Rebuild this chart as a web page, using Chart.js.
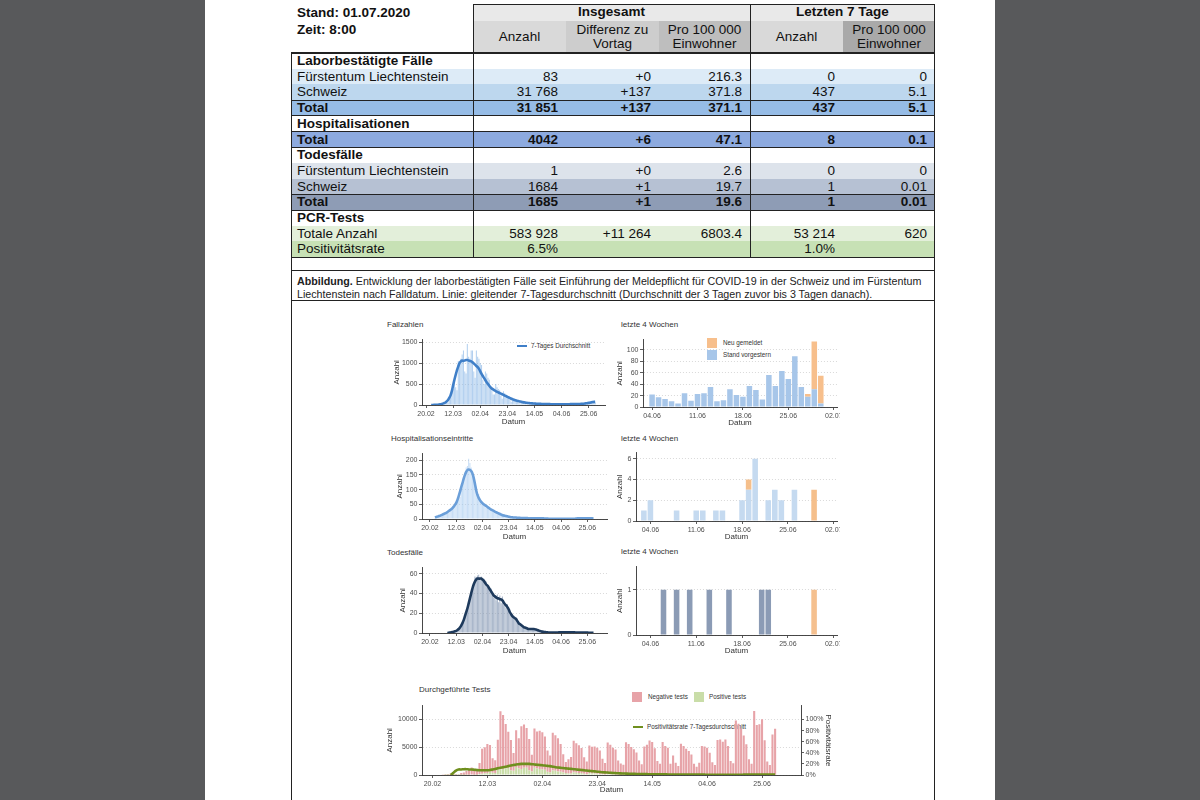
<!DOCTYPE html>
<html lang="de">
<head>
<meta charset="utf-8">
<title>COVID-19 Situationsbericht</title>
<script src="https://cdn.jsdelivr.net/npm/chart.js@4.4.0/dist/chart.umd.min.js"></script>
<style>
  body { margin:0; width:1200px; height:800px; background:#58595b; overflow:hidden; font-family:"Liberation Sans", Arial, sans-serif; color:#111; }
  #page { position:absolute; left:205px; top:0; width:790px; height:800px; background:#fff; }
  .abs { position:absolute; white-space:nowrap; }
  .abs canvas { display:block; }
  .trow { position:absolute; left:291px; width:644px; height:15.7px; line-height:15.7px; font-size:13.5px; }
  .trow span { position:absolute; top:0; }
  .hd { position:absolute; font-size:13.5px; text-align:center; display:flex; align-items:center; justify-content:center; line-height:14.5px; }
  .ln { position:absolute; background:#222; }
  .ttl { position:absolute; font-size:8px; line-height:10px; color:#333; white-space:nowrap; }
  .leg { position:absolute; font-size:6.3px; line-height:8px; color:#333; white-space:nowrap; }
  .sw { position:absolute; }
</style>
</head>
<body>
<div id="page"></div>

<!-- header of the table -->
<div class="abs" style="left:297px;top:3.5px;font-size:13.5px;line-height:17px;font-weight:bold">Stand: 01.07.2020<br>Zeit: 8:00</div>
<div class="hd" style="left:473px;top:4px;width:277px;height:17px;background:#e9e9e9;font-weight:bold">Insgesamt</div>
<div class="hd" style="left:750px;top:4px;width:185px;height:17px;background:#e9e9e9;font-weight:bold">Letzten 7 Tage</div>
<div class="hd" style="left:473px;top:21px;width:93px;height:32px;background:#d9d9d9">Anzahl</div>
<div class="hd" style="left:566px;top:21px;width:93px;height:32px;background:#cdcdcd">Differenz zu<br>Vortag</div>
<div class="hd" style="left:659px;top:21px;width:91px;height:32px;background:#bebebe">Pro 100 000<br>Einwohner</div>
<div class="hd" style="left:750px;top:21px;width:93px;height:32px;background:#d9d9d9">Anzahl</div>
<div class="hd" style="left:843px;top:21px;width:92px;height:32px;background:#a9a9a9">Pro 100 000<br>Einwohner</div>
<div id="rows"></div>

<div class="abs" style="left:297px;top:274.5px;font-size:10.7px;line-height:13px;color:#222"><b>Abbildung.</b> Entwicklung der laborbestätigten Fälle seit Einführung der Meldepflicht für COVID-19 in der Schweiz und im Fürstentum<br>Liechtenstein nach Falldatum. Linie: gleitender 7-Tagesdurchschnitt (Durchschnitt der 3 Tagen zuvor bis 3 Tagen danach).</div>

<!-- chart titles and legends -->
<div class="ttl" style="left:387px;top:320px">Fallzahlen</div>
<div class="ttl" style="left:621px;top:320px">letzte 4 Wochen</div>
<div class="ttl" style="left:391px;top:434px">Hospitalisationseintritte</div>
<div class="ttl" style="left:621px;top:434px">letzte 4 Wochen</div>
<div class="ttl" style="left:387px;top:548px">Todesfälle</div>
<div class="ttl" style="left:621px;top:547px">letzte 4 Wochen</div>
<div class="ttl" style="left:419px;top:685px">Durchgeführte Tests</div>

<div class="sw" style="left:517px;top:344.5px;width:10px;height:2.6px;background:#3f7fc8"></div>
<div class="leg" style="left:531px;top:341.7px">7-Tages Durchschnitt</div>
<div class="sw" style="left:707px;top:338px;width:10px;height:10px;background:#f7bf8c"></div>
<div class="leg" style="left:723px;top:339px">Neu gemeldet</div>
<div class="sw" style="left:707px;top:349.5px;width:10px;height:10px;background:#a7c6e9"></div>
<div class="leg" style="left:723px;top:350.5px">Stand vorgestern</div>
<div class="sw" style="left:632px;top:692px;width:10px;height:10px;background:#e7a3a8"></div>
<div class="leg" style="left:648px;top:693px">Negative tests</div>
<div class="sw" style="left:694px;top:692px;width:10px;height:10px;background:#c9dda8"></div>
<div class="leg" style="left:709px;top:693px">Positive tests</div>
<div class="sw" style="left:633px;top:725.5px;width:10px;height:2.6px;background:#6f8f1e"></div>
<div class="leg" style="left:647px;top:723px">Positivitätsrate 7-Tagesdurchschnitt</div>

<script>
// ---- data (daily values, starting 24.02.2020) ----
const bigStart = '24.02';
const bigTicks = ['20.02', '12.03', '02.04', '23.04', '14.05', '04.06', '25.06'];
const recentTicks = ['04.06', '11.06', '18.06', '25.06', '02.07'];

const casesDaily = [
  0, 1, 2, 5, 8, 6, 10,
  14, 20, 28, 45, 70, 55, 60,
  160, 230, 300, 380, 600, 420, 350,
  1050, 1000, 1100, 1200, 1300, 800, 750,
  1450, 1150, 1100, 1300, 1300, 800, 650,
  1300, 1150, 1100, 1000, 950, 600, 500,
  800, 750, 650, 600, 450, 350, 250,
  250, 500, 420, 380, 350, 220, 150,
  330, 280, 250, 220, 200, 120, 80,
  170, 150, 130, 110, 100, 60, 40,
  90, 80, 70, 60, 55, 30, 20,
  50, 45, 40, 40, 35, 20, 15,
  35, 30, 30, 15, 25, 15, 10,
  25, 20, 20, 18, 20, 12, 8,
  10, 25, 20, 22, 17, 14, 10,
  6, 24, 11, 23, 24, 35, 10,
  12, 31, 21, 18, 37, 30, 13,
  56, 37, 63, 49, 89, 35, 23,
  115, 55
];
const casesAvg = [
  0, 1, 2, 3, 5, 7, 10,
  15, 22, 32, 45, 60, 85, 120,
  170, 230, 330, 470, 600, 720, 830,
  920, 1000, 1040, 1060, 1050, 1060, 1070,
  1070, 1060, 1050, 1040, 1020, 990, 960,
  930, 900, 860, 800, 740, 690, 640,
  590, 540, 500, 460, 420, 390, 370,
  350, 330, 315, 300, 285, 270, 255,
  240, 225, 210, 195, 180, 165, 150,
  138, 125, 115, 105, 97, 90, 82,
  75, 68, 62, 57, 52, 48, 45,
  42, 39, 36, 34, 32, 30, 28,
  27, 26, 25, 24, 23, 22, 21,
  20, 20, 19, 19, 18, 18, 18,
  17, 18, 18, 18, 17, 17, 17,
  18, 19, 19, 20, 21, 21, 22,
  22, 23, 24, 25, 26, 28, 31,
  35, 40, 45, 50, 55, 62, 68,
  72, 75
];
const hospDaily = [
  3, 6, 5, 9, 12, 10, 14,
  15, 20, 18, 25, 24, 30, 33,
  38, 40, 50, 55, 62, 70, 75,
  100, 115, 130, 150, 175, 180, 205,
  190, 175, 160, 150, 120, 100, 80,
  85, 72, 60, 55, 50, 42, 38,
  48, 40, 37, 30, 28, 25, 22,
  25, 24, 20, 18, 15, 12, 10,
  14, 11, 9, 8, 7, 5, 4,
  7, 6, 5, 4, 4, 2, 2,
  4, 3, 3, 3, 2, 2, 1,
  3, 2, 2, 2, 2, 1, 1,
  2, 2, 2, 1, 1, 1, 0,
  1, 1, 1, 1, 1, 0, 0,
  0, 0, 1, 2, 0, 0, 0,
  1, 0, 0, 1, 1, 0, 1,
  1, 0, 0, 2, 4, 6, 0,
  2, 3, 2, 0, 3, 0, 0,
  3, 0
];
const hospAvg = [
  5, 7, 8, 10, 11, 13, 15,
  17, 19, 21, 24, 27, 30, 33,
  37, 42, 48, 55, 65, 78, 92,
  108, 122, 137, 150, 160, 166, 168,
  167, 163, 155, 140, 120, 98, 82,
  72, 64, 58, 54, 50, 47, 44,
  41, 38, 35, 32, 30, 28, 25,
  23, 21, 19, 17, 15, 13, 12,
  11, 10, 9, 8, 7, 6, 6,
  5, 5, 5, 4, 4, 4, 3,
  3, 3, 3, 3, 3, 2, 2,
  2, 2, 2, 2, 2, 2, 2,
  2, 2, 2, 2, 1.5, 1.5, 1.5,
  1, 1, 1, 1, 1, 1, 1,
  1, 1, 1, 1, 1, 1, 1,
  1, 1, 1, 1, 1, 1, 1,
  1, 1.5, 2, 2, 2, 2, 2,
  2, 2.5, 2.5, 2.5, 2, 2, 2,
  2, 1.5
];
const deathsDaily = [
  0, 0, 0, 0, 0, 0, 0,
  0, 0, 0, 1, 0, 1, 1,
  1, 2, 1, 3, 3, 5, 6,
  9, 11, 14, 16, 22, 26, 31,
  36, 42, 44, 50, 57, 56, 58,
  59, 54, 57, 53, 55, 49, 52,
  47, 48, 42, 45, 38, 36, 38,
  33, 39, 31, 38, 30, 37, 28,
  30, 25, 29, 22, 20, 18, 17,
  15, 16, 13, 12, 9, 10, 7,
  8, 6, 5, 6, 4, 3, 5,
  4, 5, 3, 4, 4, 2, 3,
  2, 2, 1, 1, 1, 1, 0,
  1, 0, 1, 0, 1, 0, 0,
  0, 0, 0, 0, 0, 1, 0,
  1, 0, 1, 0, 0, 1, 0,
  0, 1, 0, 0, 0, 0, 1,
  1, 0, 0, 0, 0, 0, 0,
  1, 0
];
const deathsAvg = [
  null, null, null, null, null, null, null,
  null, null, null, 0, 0.3, 0.5, 0.7,
  1, 1.3, 1.7, 2.2, 3, 4, 5.5,
  7.5, 10, 13, 17, 21, 25, 30,
  35, 40, 45, 49, 52, 54, 55,
  55, 55, 55, 54, 53, 51, 49,
  48, 46, 44, 42, 40, 38, 37,
  36, 35, 35, 34, 34, 33, 31,
  29, 28, 26, 24, 21, 19, 17,
  16, 15, 14, 12, 10, 9, 8,
  7, 6, 5.5, 5, 4.5, 4, 4,
  4, 4, 4, 3.8, 3.5, 3, 2.5,
  2, 1.7, 1.4, 1.2, 1, 0.8, 0.6,
  0.5, 0.5, 0.5, 0.5, 0.5, 0.5, 0.5,
  0.5, 0.6, 0.7, 0.7, 0.8, 0.8, 0.8,
  0.8, 0.8, 0.8, 0.7, 0.7, 0.7, 0.6,
  0.6, 0.5, 0.5, 0.5, 0.5, 0.5, 0.5,
  0.5, 0.5, 0.4, 0.4, 0.3, 0.3, 0.3,
  0.3, 0.3
];
const testsNegative = [
  50, 80, 150, 250, 300, 150, 100,
  350, 450, 700, 900, 1300, 900, 800,
  2000, 4500, 4700, 5200, 4800, 2600, 2300,
  5300, 10500, 9700, 8000, 6500, 5500, 3200,
  6600, 5500, 7700, 7800, 7200, 5700, 3000,
  7100, 6700, 6900, 6700, 6000, 3800, 3000,
  6800, 6400, 6000, 5000, 3300, 2000, 2600,
  3000, 5700, 5300, 5000, 4500, 3000, 2300,
  5000, 4800, 4900, 4700, 4200, 2800, 2100,
  5700, 5300, 4800, 4500, 2500, 2000, 1800,
  5800, 5500, 5000, 4600, 4000, 2600, 1900,
  5100, 5400, 6200, 5900, 4800, 2500, 2000,
  5900, 5200, 4900, 2000, 3500, 2200, 1600,
  5600, 5200, 4700, 4300, 3700, 2000, 1500,
  2200, 5200, 5100, 4900, 4000, 2300, 1800,
  6300, 6400, 6000, 6400, 5200, 2500, 2100,
  9800, 9200, 8300, 7100, 5500, 2800, 2000,
  11500, 9000, 9100, 10000, 6200, 2400, 1800,
  7200, 8300
];
const testsPositive = casesDaily;
const positivityAvg = [
  null, null, null, 0, 4, 8, 10,
  10, 10.5, 10.5, 10, 10, 9.5, 9,
  8.5, 8.5, 8.5, 8.5, 9, 10, 11,
  12, 13, 14, 15, 16, 17, 18,
  19, 19.5, 20, 20, 20, 20, 19.5,
  19, 18.5, 18, 17.5, 17, 16.5, 16,
  15, 14, 13.5, 13, 12.5, 12, 11.5,
  11, 10.5, 10, 9.5, 9, 8.5, 8,
  7.5, 7, 6.5, 6, 5.5, 5, 4.7,
  4.4, 4, 3.7, 3.4, 3.1, 2.9, 2.7,
  2.5, 2.3, 2.1, 2, 1.9, 1.8, 1.7,
  1.6, 1.5, 1.4, 1.3, 1.3, 1.2, 1.2,
  1.1, 1.1, 1, 1, 1, 0.9, 0.9,
  0.9, 0.8, 0.8, 0.8, 0.7, 0.7, 0.7,
  0.6, 0.6, 0.6, 0.5, 0.5, 0.5, 0.5,
  0.5, 0.5, 0.5, 0.5, 0.5, 0.5, 0.5,
  0.5, 0.5, 0.5, 0.6, 0.6, 0.6, 0.6,
  0.7, 0.7, 0.8, 0.8, 0.9, 0.9, 1,
  1, 1
];

// last four weeks
const casesRecentStart = '04.06';
const casesRecentKnown = [22, 17, 14, 10, 6, 24, 11, 23, 24, 35, 10, 12, 31, 21, 18, 37, 30, 13, 56, 37, 63, 49, 89, 35, 18, 31, 6];
const casesRecentNew   = [0, 0, 0, 0, 0, 0, 0, 0, 0, 0, 0, 0, 0, 0, 0, 0, 0, 0, 0, 0, 0, 0, 0, 0, 5, 84, 49];
const recentStart = '03.06';
const hospRecentKnown   = [1, 2, 0, 0, 0, 1, 0, 0, 1, 1, 0, 1, 1, 0, 0, 2, 3, 6, 0, 2, 3, 2, 0, 3, 0, 0, 0, 0];
const hospRecentNew     = [0, 0, 0, 0, 0, 0, 0, 0, 0, 0, 0, 0, 0, 0, 0, 0, 1, 0, 0, 0, 0, 0, 0, 0, 0, 0, 3, 0];
const deathsRecentKnown = [0, 0, 0, 1, 0, 1, 0, 1, 0, 0, 1, 0, 0, 1, 0, 0, 0, 0, 1, 1, 0, 0, 0, 0, 0, 0, 0, 0];
const deathsRecentNew   = [0, 0, 0, 0, 0, 0, 0, 0, 0, 0, 0, 0, 0, 0, 0, 0, 0, 0, 0, 0, 0, 0, 0, 0, 0, 0, 1, 0];

// ---- table ----
const cols = [291, 473, 566, 659, 750, 843, 935];
const rowTop = 53, rowH = 15.7;
const tableRows = [
  { label: 'Laborbestätigte Fälle', bold: true },
  { label: 'Fürstentum Liechtenstein', vals: ['83', '+0', '216.3', '0', '0'], bg: '#ddebf7' },
  { label: 'Schweiz', vals: ['31 768', '+137', '371.8', '437', '5.1'], bg: '#bdd7ee' },
  { label: 'Total', vals: ['31 851', '+137', '371.1', '437', '5.1'], bg: '#96bce6', bold: true, total: true },
  { label: 'Hospitalisationen', bold: true },
  { label: 'Total', vals: ['4042', '+6', '47.1', '8', '0.1'], bg: '#8daadf', bold: true, total: true },
  { label: 'Todesfälle', bold: true },
  { label: 'Fürstentum Liechtenstein', vals: ['1', '+0', '2.6', '0', '0'], bg: '#dde3eb' },
  { label: 'Schweiz', vals: ['1684', '+1', '19.7', '1', '0.01'], bg: '#b6c1d3' },
  { label: 'Total', vals: ['1685', '+1', '19.6', '1', '0.01'], bg: '#8e9cb5', bold: true, total: true },
  { label: 'PCR-Tests', bold: true },
  { label: 'Totale Anzahl', vals: ['583 928', '+11 264', '6803.4', '53 214', '620'], bg: '#e3efda' },
  { label: 'Positivitätsrate', vals: ['6.5%', '', '', '1.0%', ''], bg: '#c7e1b5' }
];

let html = '';
const hLines = [[473, 935, 4, 1], [291, 935, 52.5, 2], [291, 935, 257, 1], [291, 935, 270, 1], [291, 935, 300, 1]];
tableRows.forEach((r, i) => {
  const top = rowTop + i * rowH;
  html += `<div class="trow" style="top:${top}px;${r.bg ? 'background:' + r.bg + ';' : ''}${r.bold ? 'font-weight:bold;' : ''}">`;
  html += `<span style="left:6px">${r.label}</span>`;
  (r.vals || []).forEach((v, j) => {
    html += `<span style="left:${cols[j + 1] - 291}px;width:${cols[j + 2] - cols[j + 1] - 8}px;text-align:right">${v}</span>`;
  });
  html += '</div>';
  if (r.total) { hLines.push([291, 935, top, 1]); hLines.push([291, 935, top + rowH, 1]); }
});
const vLines = [[291, 52.5, 800], [473, 4, 257], [750, 4, 257], [934.5, 4, 800]];
hLines.forEach(([x1, x2, y, w]) => { html += `<div class="ln" style="left:${x1}px;top:${y - w / 2}px;width:${x2 - x1}px;height:${w}px"></div>`; });
vLines.forEach(([x, y1, y2]) => { html += `<div class="ln" style="left:${x - 0.5}px;top:${y1}px;width:1px;height:${y2 - y1}px"></div>`; });
document.getElementById('rows').innerHTML = html;

// ---- charts ----
Chart.defaults.font.family = '"Liberation Sans", Arial, sans-serif';
Chart.defaults.color = '#4d4d4d';
Chart.defaults.animation = false;
Chart.defaults.plugins.legend.display = false;
Chart.defaults.plugins.tooltip.enabled = false;

const dayOf = s => {
  const [d, m] = s.split('.').map(Number);
  return (Date.UTC(2020, m - 1, d) - Date.UTC(2020, 1, 20)) / 864e5;
};
const pts = (start, vals) => vals.map((v, i) => ({ x: dayOf(start) + i, y: v }));

function xAxis(min, max, labels, height) {
  return {
    type: 'linear', min, max, offset: false, stacked: true,
    afterBuildTicks: s => { s.ticks = labels.map(l => ({ value: dayOf(l) })); },
    afterFit: s => { s.height = height; },
    ticks: { autoSkip: false, maxRotation: 0, padding: 1.5, font: { size: 7 }, color: '#4d4d4d', callback: (v, i) => labels[i] },
    grid: { drawOnChartArea: false, offset: false, tickLength: 3, tickColor: '#333', tickWidth: 0.8 },
    border: { color: '#333', width: 0.9 },
    title: { display: true, text: 'Datum', padding: 0, font: { size: 8 }, color: '#333' }
  };
}
function yAxis(max, ticks, width, o = {}) {
  return {
    type: 'linear', min: 0, max, stacked: !!o.stacked, position: o.position || 'left',
    afterBuildTicks: s => { s.ticks = ticks.map(v => ({ value: v })); },
    afterFit: s => { s.width = width; },
    ticks: { padding: 1.5, font: { size: 7 }, color: '#4d4d4d', callback: v => o.pct ? v + '%' : String(v) },
    grid: { color: '#cfcfcf', lineWidth: 0.8, drawOnChartArea: o.grid !== false, tickLength: 3, tickColor: '#333', tickWidth: 0.8 },
    border: { color: '#333', width: 0.9, dash: [1, 2] },
    title: { display: true, text: o.title || 'Anzahl', padding: 0, font: { size: 8 }, color: '#333' }
  };
}
const barSet = (data, color, pct = 0.85) => ({ type: 'bar', data, backgroundColor: color, borderWidth: 0, barPercentage: pct, categoryPercentage: 1, order: 1 });
const lineSet = (data, color, yAxisID = 'y') => ({ type: 'line', data, borderColor: color, borderWidth: 2.6, pointRadius: 0, tension: 0.25, fill: false, order: 0, yAxisID });

function makeChart(box, datasets, scales) {
  const wrap = document.createElement('div');
  wrap.className = 'abs';
  wrap.style.cssText = `left:${box.x}px;top:${box.y}px;width:${box.clip || box.w}px;height:${box.h}px;overflow:hidden`;
  const cv = document.createElement('canvas');
  cv.width = box.w; cv.height = box.h;
  wrap.appendChild(cv);
  document.body.appendChild(wrap);
  return new Chart(cv, {
    type: 'bar',
    data: { datasets },
    options: { responsive: false, layout: { padding: { top: 5, right: box.padR || 2, left: 0, bottom: 0 } }, scales }
  });
}

// Fallzahlen
makeChart({ x: 392, y: 334, w: 215, h: 93 },
  [lineSet(pts(bigStart, casesAvg), '#3f7fc8'), barSet(pts(bigStart, casesDaily), 'rgba(128,176,228,0.6)', 0.8)],
  { x: xAxis(-3.1, 138.6, bigTicks, 22), y: yAxis(1555, [0, 500, 1000, 1500], 30) });

// Hospitalisationseintritte
makeChart({ x: 395, y: 448, w: 214, h: 94 },
  [lineSet(pts(bigStart, hospAvg), '#6b9fd9'), barSet(pts(bigStart, hospDaily), 'rgba(160,198,238,0.6)', 0.8)],
  { x: xAxis(-6.4, 141.8, bigTicks, 23), y: yAxis(222, [0, 50, 100, 150, 200], 27) });

// Todesfälle
makeChart({ x: 398, y: 562, w: 211, h: 94 },
  [lineSet(pts(bigStart, deathsAvg), '#1e3a5c'), barSet(pts(bigStart, deathsDaily), 'rgba(125,145,175,0.7)', 0.8)],
  { x: xAxis(-6.4, 141.8, bigTicks, 23), y: yAxis(66, [0, 20, 40, 60], 24) });

// letzte 4 Wochen: Fälle
makeChart({ x: 615, y: 334, w: 232, h: 94, padR: 10, clip: 225 },
  [barSet(pts(casesRecentStart, casesRecentKnown), '#a7c6e9'), barSet(pts(casesRecentStart, casesRecentNew), '#f7bf8c')],
  { x: xAxis(103.6, 133.5, recentTicks, 21), y: yAxis(118, [0, 20, 40, 60, 80, 100], 28, { stacked: true }) });

// letzte 4 Wochen: Hospitalisationen
makeChart({ x: 615, y: 447, w: 232, h: 95, padR: 10, clip: 225 },
  [barSet(pts(recentStart, hospRecentKnown), '#c5daf0'), barSet(pts(recentStart, hospRecentNew), '#f5bf8b')],
  { x: xAxis(102.8, 133.5, recentTicks, 21), y: yAxis(6.57, [0, 2, 4, 6], 21, { stacked: true }) });

// letzte 4 Wochen: Todesfälle
makeChart({ x: 615, y: 561, w: 232, h: 95, padR: 10, clip: 225 },
  [barSet(pts(recentStart, deathsRecentKnown), '#8b9bb5'), barSet(pts(recentStart, deathsRecentNew), '#f5c08f')],
  { x: xAxis(102.8, 133.5, recentTicks, 21), y: yAxis(1.51, [0, 1], 21, { stacked: true }) });

// Durchgeführte Tests
makeChart({ x: 385, y: 700, w: 450, h: 95, padR: 0 },
  [lineSet(pts(bigStart, positivityAvg), '#6f8f1e', 'yR'),
   barSet(pts(bigStart, testsPositive), '#c9dda8', 0.8),
   barSet(pts(bigStart, testsNegative), '#e7a3a8', 0.8)],
  { x: xAxis(-3.99, 140.9, bigTicks, 20),
    y: yAxis(12500, [0, 5000, 10000], 37, { stacked: true }),
    yR: yAxis(125, [0, 20, 40, 60, 80, 100], 32, { position: 'right', grid: false, pct: true, title: 'Positivitätsrate' }) });
</script>
</body>
</html>
